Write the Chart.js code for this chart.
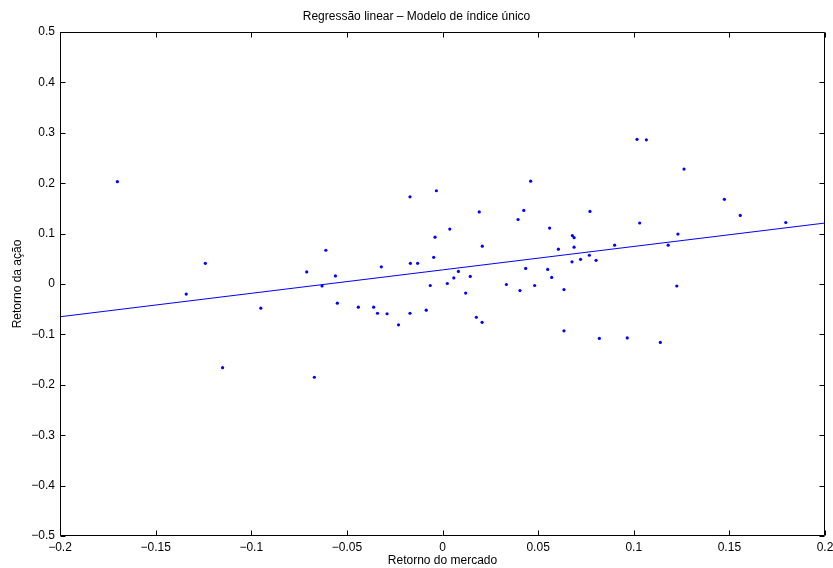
<!DOCTYPE html>
<html><head><meta charset="utf-8">
<script src="https://cdn.jsdelivr.net/npm/chart.js@4.4.1/dist/chart.umd.min.js"></script>
<style>html,body{margin:0;padding:0;background:#fff}#wrap{width:833px;height:568px}</style>
</head><body><div id="wrap"><canvas id="c" width="833" height="568"></canvas></div>
<script>
const chartTitle = 'Regressão linear – Modelo de índice único';
const xTitle = 'Retorno do mercado';
const yTitle = 'Retorno da ação';

const marketReturn = [-0.170,-0.134,-0.124,-0.115,-0.095,-0.071,-0.067,-0.063,-0.061,-0.056,-0.055,-0.044,-0.036,-0.034,-0.032,-0.029,-0.023,-0.017,-0.017,-0.0168,-0.013,-0.0085,-0.0064,-0.0046,-0.0039,-0.0032,0.0025,0.0038,0.0059,0.0083,0.0121,0.0145,0.0177,0.0192,0.0207,0.0208,0.0334,0.0395,0.0405,0.0425,0.0435,0.0461,0.0482,0.055,0.056,0.0571,0.0606,0.0635,0.0635,0.0677,0.0679,0.0688,0.0688,0.0722,0.0768,0.0771,0.0803,0.082,0.090,0.0966,0.1017,0.1031,0.1066,0.1139,0.118,0.1225,0.1231,0.1263,0.1474,0.1557,0.1795];
const stockReturn = [0.203,-0.020,0.041,-0.166,-0.048,0.024,-0.185,-0.004,0.067,0.016,-0.038,-0.046,-0.046,-0.058,0.034,-0.059,-0.081,0.173,-0.058,0.041,0.041,-0.052,-0.003,0.053,0.093,0.185,0.001,0.109,0.012,0.025,-0.018,0.015,-0.066,0.143,-0.076,0.075,-0.001,0.128,-0.013,0.146,0.031,0.204,-0.003,0.029,0.111,0.013,0.069,-0.011,-0.093,0.044,0.096,0.092,0.073,0.049,0.057,0.144,0.047,-0.108,0.077,-0.107,0.287,0.121,0.286,-0.116,0.077,-0.004,0.099,0.228,0.168,0.136,0.122];

const fitX = [-0.2, 0.2];
const fitY = [-0.065, 0.121];

const xTicks = [-0.2,-0.15,-0.1,-0.05,0,0.05,0.1,0.15,0.2];
const xTickLabels = ['−0.2','−0.15','−0.1','−0.05','0','0.05','0.1','0.15','0.2'];
const yTicks = [-0.5,-0.4,-0.3,-0.2,-0.1,0,0.1,0.2,0.3,0.4,0.5];
const yTickLabels = ['−0.5','−0.4','−0.3','−0.2','−0.1','0','0.1','0.2','0.3','0.4','0.5'];

const FONT = {family:'"Liberation Sans", Arial, Helvetica, sans-serif', size:12, weight:'normal'};

const framePlugin = {
  id:'frame',
  afterDraw(chart){
    const {ctx, chartArea:a, scales} = chart;
    const L = Math.round(a.left)+0.5, R = Math.round(a.right)-0.5, T = Math.round(a.top)+0.5, B = Math.round(a.bottom)-0.5;
    ctx.save();
    ctx.strokeStyle = '#000'; ctx.lineWidth = 1;
    ctx.beginPath();
    ctx.moveTo(L, T); ctx.lineTo(R, T);
    ctx.moveTo(R, T); ctx.lineTo(R, B);
    ctx.moveTo(R, B); ctx.lineTo(L, B);
    ctx.moveTo(L, B); ctx.lineTo(L, T);
    const tl = 5;
    scales.x.ticks.forEach(t => {
      const px = Math.round(scales.x.getPixelForValue(t.value))+0.5;
      ctx.moveTo(px, B); ctx.lineTo(px, B-tl);
      ctx.moveTo(px, T); ctx.lineTo(px, T+tl);
    });
    scales.y.ticks.forEach(t => {
      const py = Math.round(scales.y.getPixelForValue(t.value))+0.5;
      ctx.moveTo(L, py); ctx.lineTo(L+tl, py);
      ctx.moveTo(R, py); ctx.lineTo(R-tl, py);
    });
    ctx.stroke();
    ctx.restore();
  }
};

new Chart(document.getElementById('c'), {
  type:'scatter',
  data:{
    datasets:[
      {
        label:'dados',
        data: marketReturn.map((x,i)=>({x:x, y:stockReturn[i]})),
        backgroundColor:'#0000ff', borderColor:'#0000ff',
        pointRadius:1.6, pointBorderWidth:0, pointHoverRadius:1.6
      },
      {
        label:'regressão',
        data: fitX.map((x,i)=>({x:x, y:fitY[i]})),
        showLine:true, borderColor:'#0000ff', borderWidth:1,
        pointRadius:0, fill:false
      }
    ]
  },
  options:{
    responsive:false, animation:false, devicePixelRatio:1,
    layout:{padding:{left:0,right:0,top:0,bottom:0}},
    plugins:{
      legend:{display:false}, tooltip:{enabled:false},
      title:{display:true, text:chartTitle, color:'#000', font:FONT, padding:{top:9.5,bottom:8.1}}
    },
    scales:{
      x:{
        type:'linear', min:-0.2, max:0.2,
        afterBuildTicks(s){ s.ticks = xTicks.map(v=>({value:v})); },
        afterFit(s){ s.height = 32; s.paddingRight = 8; s.paddingLeft = 0; },
        grid:{display:false, drawTicks:false}, border:{display:false},
        ticks:{color:'#000', font:FONT, padding:4, maxRotation:0, autoSkip:false,
               callback:(v,i)=>xTickLabels[i]},
        title:{display:true, text:xTitle, color:'#000', font:FONT, padding:{top:0,bottom:0}}
      },
      y:{
        type:'linear', min:-0.5, max:0.5,
        afterBuildTicks(s){ s.ticks = yTicks.map(v=>({value:v})); },
        afterFit(s){ s.width = 60; s.paddingTop = 0; s.paddingBottom = 0; },
        grid:{display:false, drawTicks:false}, border:{display:false},
        ticks:{color:'#000', font:FONT, padding:5, autoSkip:false,
               callback:(v,i)=>yTickLabels[i]},
        title:{display:true, text:yTitle, color:'#000', font:FONT, padding:{top:10,bottom:0}}
      }
    }
  },
  plugins:[framePlugin]
});
</script>
</body></html>
